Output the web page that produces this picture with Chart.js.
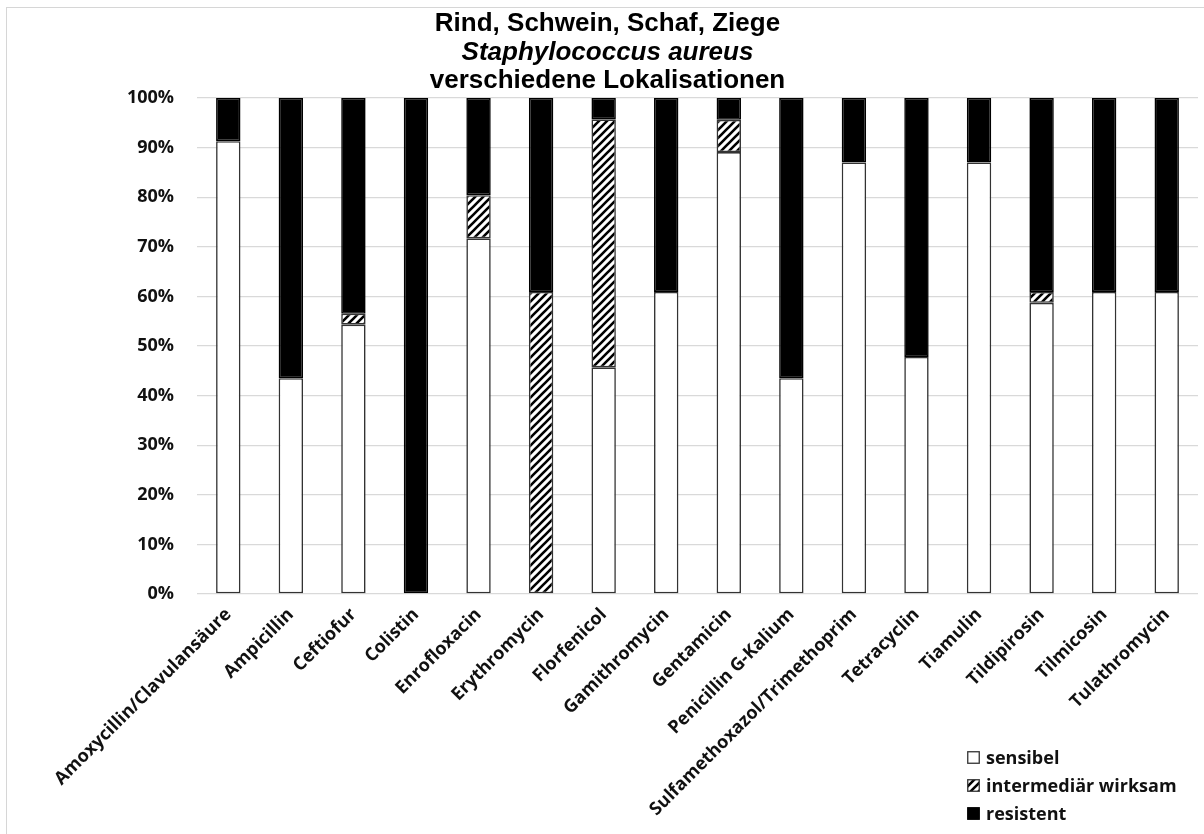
<!DOCTYPE html>
<html>
<head>
<meta charset="utf-8">
<script src="https://cdn.jsdelivr.net/npm/chart.js@4.4.1/dist/chart.umd.min.js"></script>
<style>
html,body{margin:0;padding:0;background:#fff;}
#wrap{position:relative;width:1204px;height:834px;overflow:hidden;background:#fff;}
#c{position:absolute;left:0;top:0;}
#frame{position:absolute;left:6px;top:7px;width:1300px;height:900px;border-left:1px solid #d6d6d6;border-top:1px solid #d6d6d6;pointer-events:none;}
#title{position:absolute;left:0;width:1215px;top:8px;text-align:center;font-family:"Liberation Sans",Arial,sans-serif;font-weight:bold;font-size:26px;line-height:28.5px;color:#000;}
#title .it{font-style:italic;}
#legend{position:absolute;left:967px;top:743px;font-family:"Open Sans",sans-serif;font-weight:700;font-size:18px;color:#111;}
.item{display:flex;align-items:center;height:28px;}
.item canvas{margin-right:6px;display:block;}
</style>
</head>
<body>
<div id="wrap">
  <canvas id="c" width="1204" height="834"></canvas>
  <div id="frame"></div>
  <div id="title">
    <div>Rind, Schwein, Schaf, Ziege</div>
    <div class="it">Staphylococcus aureus</div>
    <div>verschiedene Lokalisationen</div>
  </div>
  <div id="legend"></div>
</div>
<script>
const categories = [
  'Amoxycillin/Clavulansäure','Ampicillin','Ceftiofur','Colistin','Enrofloxacin',
  'Erythromycin','Florfenicol','Gamithromycin','Gentamicin','Penicillin G-Kalium',
  'Sulfamethoxazol/Trimethoprim','Tetracyclin','Tiamulin','Tildipirosin','Tilmicosin','Tulathromycin'
];
const sensibel     = [91.3, 43.5, 54.3, 0, 71.7, 0, 45.7, 60.9, 89.1, 43.5, 87.0, 47.8, 87.0, 58.7, 60.9, 60.9];
const intermediaer = [0, 0, 2.2, 0, 8.7, 60.9, 50.0, 0, 6.5, 0, 0, 0, 0, 2.2, 0, 0];
const resistent    = [8.7, 56.5, 43.5, 100, 19.6, 39.1, 4.3, 39.1, 4.4, 56.5, 13.0, 52.2, 13.0, 39.1, 39.1, 39.1];
const seriesNames  = ['sensibel', 'intermediär wirksam', 'resistent'];
const yTickValues  = [0, 10, 20, 30, 40, 50, 60, 70, 80, 90, 100];

function makeHatch(ctx) {
  const s = 8;
  const t = document.createElement('canvas');
  t.width = s; t.height = s;
  const g = t.getContext('2d');
  g.fillStyle = '#fff'; g.fillRect(0, 0, s, s);
  g.strokeStyle = '#000'; g.lineWidth = 2.6;
  g.beginPath();
  g.moveTo(-2, s + 2); g.lineTo(s + 2, -2);
  g.moveTo(-2, 2); g.lineTo(2, -2);
  g.moveTo(s - 2, s + 2); g.lineTo(s + 2, s - 2);
  g.stroke();
  return ctx.createPattern(t, 'repeat');
}

const ctx = document.getElementById('c').getContext('2d');
const hatch = makeHatch(ctx);
const nz = a => a.map(v => (v === 0 ? null : v));
const fills = ['#ffffff', hatch, '#000000'];
const borders = ['#333333', '#333333', '#000000'];
const seriesData = [sensibel, intermediaer, resistent];

const datasets = seriesNames.map((name, i) => ({
  label: name,
  data: nz(seriesData[i]),
  backgroundColor: fills[i],
  borderColor: borders[i],
  borderWidth: 1.6,
  borderSkipped: false,
  categoryPercentage: 1.0,
  barPercentage: 0.39
}));

const tickFont = { family: 'Open Sans', weight: '700', size: 18 };

new Chart(ctx, {
  type: 'bar',
  data: { labels: categories, datasets },
  options: {
    responsive: false,
    animation: false,
    layout: { padding: { top: 98, right: 6, left: 0, bottom: 0 } },
    plugins: { legend: { display: false }, title: { display: false }, tooltip: { enabled: false } },
    scales: {
      x: {
        stacked: true,
        grid: { display: false },
        border: { display: false },
        ticks: { autoSkip: false, minRotation: 45, maxRotation: 45, font: tickFont, color: '#111', padding: 2 },
        afterFit: s => { s.height = 240; }
      },
      y: {
        stacked: true,
        min: 0, max: 100,
        afterBuildTicks: s => { s.ticks = yTickValues.map(v => ({ value: v })); },
        ticks: { callback: v => v + '%', font: tickFont, color: '#111', padding: 23 },
        grid: { color: '#d9d9d9', lineWidth: 1.3, drawTicks: false },
        border: { display: false },
        afterFit: s => { s.width = 197; }
      }
    }
  }
});

// legend built from the series names
const lg = document.getElementById('legend');
seriesNames.forEach((name, i) => {
  const row = document.createElement('div');
  row.className = 'item';
  const sw = document.createElement('canvas');
  sw.width = 13; sw.height = 13;
  const g = sw.getContext('2d');
  g.fillStyle = i === 1 ? makeHatch(g) : fills[i];
  g.fillRect(0.75, 0.75, 11.5, 11.5);
  g.strokeStyle = borders[i]; g.lineWidth = 1.3;
  g.strokeRect(0.75, 0.75, 11.5, 11.5);
  const tx = document.createElement('span');
  tx.textContent = name;
  row.appendChild(sw); row.appendChild(tx);
  lg.appendChild(row);
});
</script>
</body>
</html>
